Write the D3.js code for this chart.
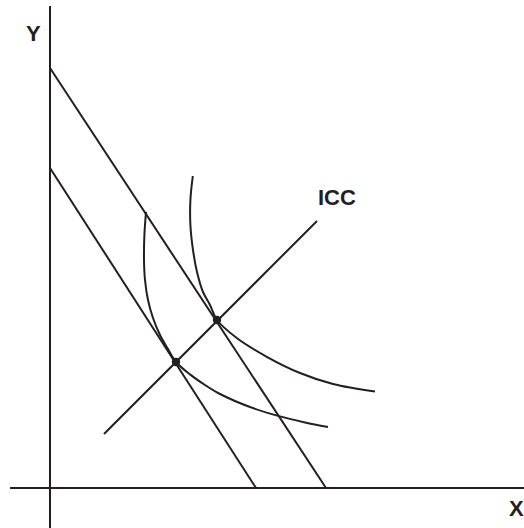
<!DOCTYPE html>
<html>
<head>
<meta charset="utf-8">
<script src="https://cdn.jsdelivr.net/npm/d3@7"></script>
<style>
  html, body { margin: 0; padding: 0; background: #fff; }
  svg { display: block; }
  text { font-family: "Liberation Sans", Arial, sans-serif; font-weight: bold; fill: #231f20; }
</style>
</head>
<body>
<script>
// ---- data (arbitrary units, origin at axes crossing) ----
const axisLabels = ["X", "Y"];
const iccLabel = "ICC";
// budget lines: [Y-intercept, X-intercept]
const budgetUpper = [[0, 105], [69, 0]];
const budgetLower = [[0, 80], [51.5, 0]];
// income-consumption curve
const iccLine = [[13.5, 13.5], [66.75, 66.75]];
// equilibrium points
const equilibria = [[31.5, 31.5], [41.75, 42]];
// indifference curves
const icUpper = [
  [35.7, 78], [35.1, 72], [35.1, 65.75], [35.75, 59.5], [36.75, 54], [38.25, 49],
  [40, 45.75], [41.75, 42], [46.7, 37.5], [54.2, 32.8], [62.5, 28.75], [70.75, 26], [81.25, 24.1]
];
const icLower = [
  [24, 69], [23.6, 63.25], [23.5, 57], [23.75, 52], [24.5, 47], [25.75, 42.5], [27.5, 38.25],
  [29.5, 34.75], [31.5, 31.5], [35, 28.4], [38.75, 25.75], [42.5, 23.5], [50, 20.25],
  [57.5, 17.9], [63.75, 16.4], [69.5, 15.25]
];
// axis extents
const xAxisExtent = [-10, 118.5];
const yAxisExtent = [-10, 120.5];

const W = 524, H = 528;
const ink = "#231f20";

const x = d3.scaleLinear().domain([0, 118.5]).range([50, 524]);
const y = d3.scaleLinear().domain([0, 122]).range([488, 0]);

const svg = d3.select("body").append("svg").attr("width", W).attr("height", H);

const line = d3.line().x(d => x(d[0])).y(d => y(d[1]));
const smooth = d3.line().x(d => x(d[0])).y(d => y(d[1])).curve(d3.curveCatmullRom.alpha(0.5));

// axes
svg.append("line").attr("x1", x(xAxisExtent[0])).attr("x2", x(xAxisExtent[1]))
  .attr("y1", y(0)).attr("y2", y(0)).attr("stroke", ink).attr("stroke-width", 2);
svg.append("line").attr("x1", x(0)).attr("x2", x(0))
  .attr("y1", y(yAxisExtent[1])).attr("y2", y(yAxisExtent[0])).attr("stroke", ink).attr("stroke-width", 2);

// budget lines & ICC
[budgetUpper, budgetLower, iccLine].forEach(pts => {
  svg.append("path").attr("d", line(pts)).attr("fill", "none")
    .attr("stroke", ink).attr("stroke-width", 2);
});

// indifference curves
[icUpper, icLower].forEach(pts => {
  svg.append("path").attr("d", smooth(pts)).attr("fill", "none")
    .attr("stroke", ink).attr("stroke-width", 2);
});

// points
svg.selectAll("circle.eq").data(equilibria).enter().append("circle")
  .attr("cx", d => x(d[0])).attr("cy", d => y(d[1])).attr("r", 4.2).attr("fill", ink);

// labels
svg.append("text").attr("x", 26).attr("y", 41).attr("font-size", 22).text(axisLabels[1]);
svg.append("text").attr("x", 509).attr("y", 516).attr("font-size", 22).text(axisLabels[0]);
svg.append("text").attr("x", 318).attr("y", 205).attr("font-size", 22).text(iccLabel);
</script>
</body>
</html>
